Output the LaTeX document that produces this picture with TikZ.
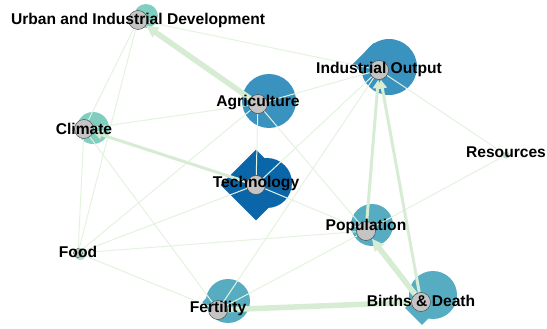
\documentclass[tikz,border=0pt]{standalone}
\usepackage{fontspec}
\setmainfont{Liberation Sans}
\usetikzlibrary{arrows.meta}

\pgfdeclarelayer{blobs}
\pgfdeclarelayer{edges}
\pgfsetlayers{blobs,edges,main}

\definecolor{edgegreen}{HTML}{E4F3E0}
\definecolor{edgedark}{HTML}{D6EDD3}
\definecolor{tealA}{HTML}{80CEC0}
\definecolor{tealC}{HTML}{A9DDD2}
\definecolor{tealB}{HTML}{56ADC1}
\definecolor{blueA}{HTML}{3A92BF}
\definecolor{blueB}{HTML}{0A66A9}
\definecolor{dotgrey}{HTML}{C4C4C4}

\tikzstyle{var} = [circle, draw=black!75, fill=dotgrey, minimum size=19pt, inner sep=0pt]
\tikzstyle{smallvar} = [var, minimum size=9pt]
\tikzstyle{lbl} = [font=\bfseries\fontsize{15.6}{16}\selectfont, text=black, inner sep=0pt]
\tikzstyle{link} = [draw=edgegreen, line width=1pt]
\tikzstyle{midlink} = [draw=edgedark, line width=3pt, -{Triangle[length=9pt,width=9pt]}]
\tikzstyle{fatlink} = [draw=edgedark, line width=5.5pt, -{Triangle[length=12pt,width=11pt]}]

\begin{document}
\begin{tikzpicture}[x=1pt, y=-1pt]

\node [var, label={[lbl]center:Urban and Industrial Development}] (urban) at (138,20) {};

\node [var, label={[lbl, yshift=1pt]center:Industrial Output}] (ind) at (379,70) {};

\node [var, label={[lbl, yshift=1pt]center:Agriculture}] (agr) at (258,104) {};

\node [var, label={[lbl]center:Climate}] (clim) at (84,129) {};

\node [var, label={[lbl, yshift=1pt]center:Technology}] (tech) at (256,185) {};

\node [circle, fill=edgegreen!80!teal, minimum size=7pt, inner sep=0pt, label={[lbl, yshift=3pt]center:Resources}] (res) at (506,155) {};

\node [var, label={[lbl, yshift=5pt]center:Population}] (pop) at (366,231) {};

\node [smallvar, label={[lbl, yshift=1pt]center:Food}] (food) at (78,253) {};

\node [var, label={[lbl, yshift=2pt]center:Fertility}] (fert) at (218,310) {};

\node [var, label={[lbl, yshift=1pt]center:Births \& Death}] (births) at (421,302) {};

% coloured blobs behind the variables
\begin{pgfonlayer}{blobs}
\fill [white] (0,0) rectangle (547,329);
\fill [tealA] (146,16) circle (12pt);
\fill [tealA] (93,128) circle (16pt);
\fill [tealC] (80,254) circle (6pt);
\fill [blueA] (389,67) circle (28pt);
\fill [blueA, rotate around={45:(374,64)}] (359,49) rectangle (389,79);
\fill [blueA] (269,101) circle (27pt);
\fill [blueB, rotate around={45:(256,185)}] (231,160) rectangle (281,210);
\fill [blueB] (267,183) circle (25pt);
\fill [tealB] (372,225) circle (21pt);
\fill [tealB, rotate around={45:(363,230)}] (354,221) rectangle (372,239);
\fill [tealB] (228,301) circle (22pt);
\fill [tealB, rotate around={45:(218,302)}] (207,291) rectangle (229,313);
\fill [tealB] (433,295) circle (24pt);
\fill [tealB, rotate around={45:(422,308)}] (410,296) rectangle (434,320);
\end{pgfonlayer}

% links
\begin{pgfonlayer}{edges}
\draw [link] (clim) -- (urban);
\draw [link] (food) -- (urban);
\draw [link] (ind) -- (urban);
\draw [link] (clim) -- (agr);
\draw [link] (clim) -- (food);
\draw [link] (clim) -- (fert);
\draw [link] (food) -- (agr);
\draw [link] (food) -- (tech);
\draw [link] (food) -- (pop);
\draw [link] (food) -- (fert);
\draw [link] (agr) -- (ind);
\draw [link] (agr) -- (tech);
\draw [link] (agr) -- (pop);
\draw [link] (tech) -- (ind);
\draw [link] (tech) -- (pop);
\draw [link] (fert) -- (ind);
\draw [link] (fert) -- (pop);
\draw [link] (res) -- (ind);
\draw [link] (res) -- (pop);
\draw [midlink] (tech) -- (clim);
\draw [midlink] (pop) -- (ind);
\draw [midlink] (births) -- (ind);
\draw [fatlink] (agr) -- (urban);
\draw [fatlink] (births) -- (pop);
\draw [fatlink, -] (fert) -- (births);
\end{pgfonlayer}

\end{tikzpicture}
\end{document}
